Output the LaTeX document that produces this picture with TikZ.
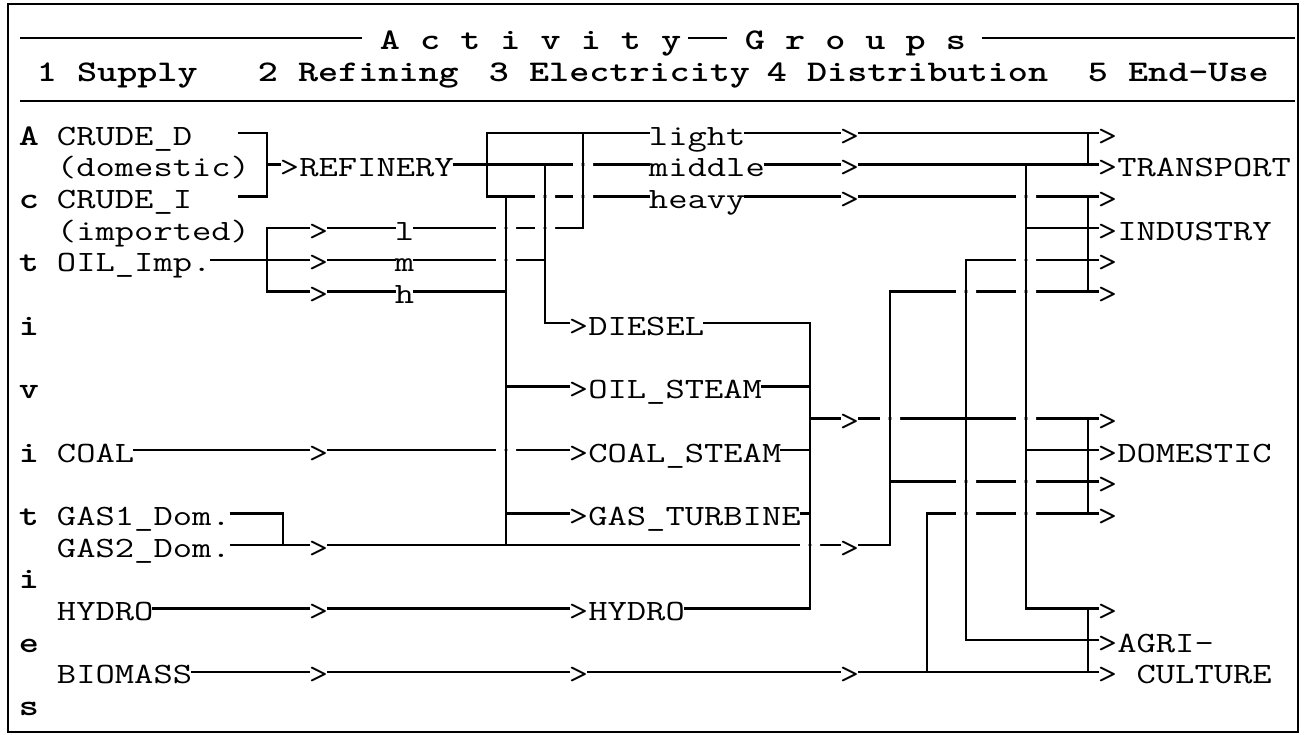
\documentclass[tikz,border=0pt]{standalone}
\usetikzlibrary{calc}

\begin{document}
\begin{tikzpicture}[
    x=0.5pt, y=-15.85pt,
    txt/.style={inner xsep=-0.6pt, inner ysep=0pt, text height=12pt, text depth=0pt, anchor=west, xscale=1.275, font=\fontsize{14.7}{16}\selectfont\ttfamily},
    hdr/.style={txt, xscale=1.0, font=\fontsize{15}{17}\selectfont\ttfamily\bfseries},
    flow/.style={line width=1.25pt},
    rule/.style={line width=1.1pt},
    frame/.style={line width=1pt}
]

\useasboundingbox (0,-4.196) rectangle (1305,18.96);

% Frame
\coordinate (frame_nw) at (8,-4.07);
\coordinate (frame_se) at (1298,18.9);
\draw[frame] (frame_nw) rectangle (frame_se);

% ==================== Header ====================
\node[hdr] (act_title) at (381,-3) {A c t i v i t y};
\node[hdr] (grp_title) at (746,-3) {G r o u p s};
\coordinate (rule_l) at (20,-3);
\coordinate (rule_r) at (1295,-3);
\draw[rule] (rule_l) -- ([xshift=-9.5pt]act_title.west);
\draw[rule] ([xshift=4pt]act_title.east) -- ([xshift=-9.5pt]grp_title.west);
\draw[rule] ([xshift=8.5pt]grp_title.east) -- (rule_r);

\node[hdr] (grp_supply) at (38,-2) {1 Supply};
\node[hdr] (grp_refining) at (259,-2) {2 Refining};
\node[hdr] (grp_electricity) at (490,-2) {3 Electricity};
\node[hdr] (grp_distribution) at (768,-2) {4 Distribution};
\node[hdr] (grp_enduse) at (1089,-2) {5 End-Use};

\coordinate (sep_l) at (20,-1);
\coordinate (sep_r) at (1295,-1);
\draw[rule] (sep_l) -- (sep_r);

% Activities down the left side
\foreach \ch/\r in {A/0,c/2,t/4,i/6,v/8,i/10,t/12,i/14,e/16,s/18}
    \node[hdr] (act_\r) at (20,\r) {\ch};

% ==================== Supply Block ====================
\node[txt] (crude_d) at (58,0) {CRUDE\_D};
\node[txt] (crude_dom) at (58,1) {(domestic)};
\node[txt] (crude_i) at (58,2) {CRUDE\_I};
\node[txt] (crude_imp) at (58,3) {(imported)};
\node[txt] (oil_imp) at (58,4) {OIL\_Imp.};
\node[txt] (coal) at (58,10) {COAL};
\node[txt] (gas1) at (58,12) {GAS1\_Dom.};
\node[txt] (gas2) at (58,13) {GAS2\_Dom.};
\node[txt] (hydro) at (58,15) {HYDRO};
\node[txt] (biomass) at (58,17) {BIOMASS};

% Bus columns
\coordinate (bus_crude) at (267,0);
\coordinate (bus_gas) at (283,0);
\coordinate (bus_box) at (487,0);
\coordinate (bus_heavy) at (506,0);
\coordinate (bus_mid) at (545,0);
\coordinate (bus_light) at (583,0);
\coordinate (bus_el) at (810,0);
\coordinate (bus_d1) at (890,0);
\coordinate (bus_d2) at (927,0);
\coordinate (bus_d3) at (966,0);
\coordinate (bus_d4) at (1026,0);
\coordinate (bus_end) at (1088,0);
\coordinate (crude_d_tail) at (238,0);
\coordinate (crude_i_tail) at (238,2);

% ==================== Refining Block ====================
\node[txt] (refinery) at (281,1) {>REFINERY};
\node[txt] (gt_l) at (310,3) {>};
\node[txt] (gt_m) at (310,4) {>};
\node[txt] (gt_h) at (310,5) {>};
\node[txt] (imp_l) at (396,3) {l};
\node[txt] (imp_m) at (396,4) {m};
\node[txt] (imp_h) at (396,5) {h};
\node[txt] (gt_coal) at (310,10) {>};
\node[txt] (gt_gas) at (310,13) {>};
\node[txt] (gt_hydro) at (310,15) {>};
\node[txt] (gt_bio1) at (310,17) {>};

% ==================== Electricity Block ====================
\node[txt] (light) at (650,0) {light};
\node[txt] (middle) at (650,1) {middle};
\node[txt] (heavy) at (650,2) {heavy};
\node[txt] (diesel) at (570,6) {>DIESEL};
\node[txt] (oil_steam) at (570,8) {>OIL\_STEAM};
\node[txt] (coal_steam) at (570,10) {>COAL\_STEAM};
\node[txt] (gas_turb) at (570,12) {>GAS\_TURBINE};
\node[txt] (hydro_el) at (570,15) {>HYDRO};
\node[txt] (gt_bio2) at (570,17) {>};

% ==================== Distribution Block ====================
\node[txt] (gt_light) at (841,0) {>};
\node[txt] (gt_middle) at (841,1) {>};
\node[txt] (gt_heavy) at (841,2) {>};
\node[txt] (gt_el) at (841,9) {>};
\node[txt] (gt_gas2) at (841,13) {>};
\node[txt] (gt_bio3) at (841,17) {>};

% ==================== End-Use Block ====================
\foreach \r in {0,2,4,5,9,11,12,15}
    \node[txt] (end_\r) at (1099,\r) {>};
\node[txt] (transport) at (1099,1) {>TRANSPORT};
\node[txt] (industry) at (1099,3) {>INDUSTRY};
\node[txt] (domestic) at (1099,10) {>DOMESTIC};
\node[txt] (agri) at (1099,16) {>AGRI-};
\node[txt] (culture) at (1099,17) {> CULTURE};

% Supply -> Refining
\draw[flow] (crude_d_tail) -| (bus_crude |- crude_i.east) -- (crude_i_tail);
\draw[flow] (bus_crude |- refinery.west) -- (refinery.west);
\draw[flow] (gt_l.west) -| (bus_crude |- gt_h.west) -- (gt_h.west);
\draw[flow] (oil_imp.east) -- (gt_m.west);
\draw[flow] (gt_l.east) -- (imp_l.west);
\draw[flow] (gt_m.east) -- (imp_m.west);
\draw[flow] (gt_h.east) -- (imp_h.west);

% Refinery outputs
\draw[flow] (refinery.east) -- (middle.west);
\draw[flow] (light.west) -| (bus_box |- heavy.west) -- (heavy.west);
\draw[flow] (imp_l.east) -| (bus_light |- light.west);
\draw[flow] (imp_m.east) -- (bus_mid |- imp_m.east);
\draw[flow] (bus_mid |- refinery.east) |- (diesel.west);
\draw[flow] (imp_h.east) -- (bus_heavy |- imp_h.east);
\draw[flow] (bus_heavy |- heavy.west) -- (bus_heavy |- gas2.east);
\draw[flow] (bus_heavy |- oil_steam.west) -- (oil_steam.west);
\draw[flow] (bus_heavy |- gas_turb.west) -- (gas_turb.west);

% Coal, gas, hydro, biomass
\draw[flow] (coal.east) -- (gt_coal.west);
\draw[flow] (gt_coal.east) -- (coal_steam.west);
\draw[flow] (gas1.east) -| (bus_gas |- gas2.east);
\draw[flow] (gas2.east) -- (gt_gas.west);
\draw[flow] (gt_gas.east) -- (gt_gas2.west);
\draw[flow] (gt_gas2.east) -| (bus_d1 |- end_5.west) -- (end_5.west);
\draw[flow] (hydro.east) -- (gt_hydro.west);
\draw[flow] (gt_hydro.east) -- (hydro_el.west);
\draw[flow] (biomass.east) -- (gt_bio1.west);
\draw[flow] (gt_bio1.east) -- (gt_bio2.west);
\draw[flow] (gt_bio2.east) -- (gt_bio3.west);
\draw[flow] (gt_bio3.east) -- (culture.west);

% Electricity collector
\draw[flow] (diesel.east) -| (bus_el |- hydro_el.east) -- (hydro_el.east);
\draw[flow] (oil_steam.east) -- (bus_el |- oil_steam.east);
\draw[flow] (coal_steam.east) -- (bus_el |- coal_steam.east);
\draw[flow] (gas_turb.east) -- (bus_el |- gas_turb.east);
\draw[flow] (bus_el |- gt_el.west) -- (gt_el.west);
\draw[flow] (gt_el.east) -- (end_9.west);

% Distribution
\draw[flow] (light.east) -- (gt_light.west);
\draw[flow] (gt_light.east) -- (end_0.west);
\draw[flow] (middle.east) -- (gt_middle.west);
\draw[flow] (gt_middle.east) -- (transport.west);
\draw[flow] (heavy.east) -- (gt_heavy.west);
\draw[flow] (gt_heavy.east) -- (end_2.west);
\draw[flow] (bus_d4 |- transport.west) |- (end_15.west);
\draw[flow] (bus_d4 |- industry.west) -- (industry.west);
\draw[flow] (bus_d4 |- domestic.west) -- (domestic.west);
\draw[flow] (end_4.west) -| (bus_d3 |- agri.west) -- (agri.west);
\draw[flow] (bus_d1 |- end_11.west) -- (end_11.west);
\draw[flow] (end_12.west) -| (bus_d2 |- culture.west);

% End-use brackets
\draw[flow] (bus_end |- end_0.west) -- (bus_end |- transport.west);
\draw[flow] (bus_end |- end_2.west) -- (bus_end |- end_5.west);
\draw[flow] (bus_end |- end_9.west) -- (bus_end |- end_12.west);
\draw[flow] (bus_end |- end_15.west) -- (bus_end |- culture.west);

% Breaks where a line passes under a bus
\foreach \vb/\hz in {bus_light/refinery.east, bus_mid/heavy.west, bus_light/heavy.west,
        bus_heavy/imp_l.east, bus_mid/imp_l.east, bus_heavy/imp_m.east,
        bus_heavy/coal.east, bus_el/gas2.east, bus_d1/end_9.west, bus_d4/end_9.west,
        bus_d4/end_2.west, bus_d4/end_4.west, bus_d3/end_5.west, bus_d4/end_5.west,
        bus_d3/end_11.west, bus_d4/end_11.west, bus_d3/end_12.west, bus_d4/end_12.west}
    \fill[white] ($(\vb |- \hz)+(-10,-0.1)$) rectangle ($(\vb |- \hz)+(-1.3,0.1)$)
                 ($(\vb |- \hz)+(1.3,-0.1)$) rectangle ($(\vb |- \hz)+(10,0.1)$);

\end{tikzpicture}
\end{document}
